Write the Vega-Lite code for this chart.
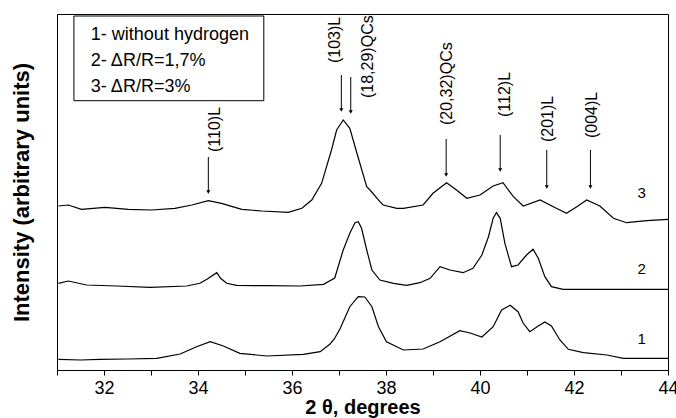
{
  "$schema": "https://vega.github.io/schema/vega-lite/v6.json",
  "autosize": "none",
  "padding": {"left": 57, "top": 14, "right": 8, "bottom": 48},
  "width": 611,
  "height": 356,
  "background": "white",
  "config": {
    "view": {"stroke": "black", "strokeWidth": 1},
    "font": "Liberation Sans"
  },
  "datasets": {
    "curves": [
      {"theta": 31.03, "intensity": 10.7, "sample": "1"},
      {"theta": 31.5, "intensity": 10.0, "sample": "1"},
      {"theta": 31.91, "intensity": 10.7, "sample": "1"},
      {"theta": 32.5, "intensity": 11.0, "sample": "1"},
      {"theta": 33.12, "intensity": 11.7, "sample": "1"},
      {"theta": 33.62, "intensity": 16, "sample": "1"},
      {"theta": 33.97, "intensity": 23.3, "sample": "1"},
      {"theta": 34.26, "intensity": 28.3, "sample": "1"},
      {"theta": 34.54, "intensity": 24, "sample": "1"},
      {"theta": 34.89, "intensity": 16.7, "sample": "1"},
      {"theta": 35.46, "intensity": 14, "sample": "1"},
      {"theta": 36.24, "intensity": 15.7, "sample": "1"},
      {"theta": 36.6, "intensity": 18.3, "sample": "1"},
      {"theta": 36.81, "intensity": 26, "sample": "1"},
      {"theta": 36.9, "intensity": 31, "sample": "1"},
      {"theta": 37.02, "intensity": 41, "sample": "1"},
      {"theta": 37.23, "intensity": 63.3, "sample": "1"},
      {"theta": 37.41, "intensity": 73.3, "sample": "1"},
      {"theta": 37.55, "intensity": 73, "sample": "1"},
      {"theta": 37.7, "intensity": 63.3, "sample": "1"},
      {"theta": 37.84, "intensity": 43.3, "sample": "1"},
      {"theta": 38.01, "intensity": 28.3, "sample": "1"},
      {"theta": 38.37, "intensity": 20, "sample": "1"},
      {"theta": 38.79, "intensity": 21, "sample": "1"},
      {"theta": 39.15, "intensity": 28.3, "sample": "1"},
      {"theta": 39.57, "intensity": 39.3, "sample": "1"},
      {"theta": 39.79, "intensity": 37, "sample": "1"},
      {"theta": 40.04, "intensity": 33, "sample": "1"},
      {"theta": 40.28, "intensity": 43.3, "sample": "1"},
      {"theta": 40.46, "intensity": 60, "sample": "1"},
      {"theta": 40.64, "intensity": 64.7, "sample": "1"},
      {"theta": 40.81, "intensity": 58.3, "sample": "1"},
      {"theta": 40.92, "intensity": 46.7, "sample": "1"},
      {"theta": 41.06, "intensity": 38.3, "sample": "1"},
      {"theta": 41.24, "intensity": 44, "sample": "1"},
      {"theta": 41.38, "intensity": 48, "sample": "1"},
      {"theta": 41.52, "intensity": 44, "sample": "1"},
      {"theta": 41.7, "intensity": 30, "sample": "1"},
      {"theta": 41.88, "intensity": 20.7, "sample": "1"},
      {"theta": 42.2, "intensity": 17.3, "sample": "1"},
      {"theta": 42.7, "intensity": 15, "sample": "1"},
      {"theta": 43.05, "intensity": 11.7, "sample": "1"},
      {"theta": 44, "intensity": 11.7, "sample": "1"},

      {"theta": 31.03, "intensity": 86.7, "sample": "2"},
      {"theta": 31.24, "intensity": 89, "sample": "2"},
      {"theta": 31.63, "intensity": 85, "sample": "2"},
      {"theta": 32.27, "intensity": 84, "sample": "2"},
      {"theta": 32.98, "intensity": 82.7, "sample": "2"},
      {"theta": 33.76, "intensity": 84, "sample": "2"},
      {"theta": 34.04, "intensity": 86.7, "sample": "2"},
      {"theta": 34.19, "intensity": 90.7, "sample": "2"},
      {"theta": 34.4, "intensity": 97.3, "sample": "2"},
      {"theta": 34.48, "intensity": 91.7, "sample": "2"},
      {"theta": 34.61, "intensity": 86.7, "sample": "2"},
      {"theta": 34.82, "intensity": 84.7, "sample": "2"},
      {"theta": 35.46, "intensity": 84.3, "sample": "2"},
      {"theta": 36.17, "intensity": 84, "sample": "2"},
      {"theta": 36.67, "intensity": 85.7, "sample": "2"},
      {"theta": 36.91, "intensity": 92, "sample": "2"},
      {"theta": 36.98, "intensity": 103, "sample": "2"},
      {"theta": 37.09, "intensity": 120, "sample": "2"},
      {"theta": 37.23, "intensity": 136.7, "sample": "2"},
      {"theta": 37.34, "intensity": 147.3, "sample": "2"},
      {"theta": 37.41, "intensity": 148.3, "sample": "2"},
      {"theta": 37.48, "intensity": 141.7, "sample": "2"},
      {"theta": 37.59, "intensity": 120, "sample": "2"},
      {"theta": 37.7, "intensity": 100, "sample": "2"},
      {"theta": 37.87, "intensity": 90, "sample": "2"},
      {"theta": 38.16, "intensity": 86.7, "sample": "2"},
      {"theta": 38.44, "intensity": 84.7, "sample": "2"},
      {"theta": 38.72, "intensity": 87.3, "sample": "2"},
      {"theta": 38.94, "intensity": 91.7, "sample": "2"},
      {"theta": 39.15, "intensity": 103.3, "sample": "2"},
      {"theta": 39.36, "intensity": 100, "sample": "2"},
      {"theta": 39.64, "intensity": 97.3, "sample": "2"},
      {"theta": 39.85, "intensity": 101.7, "sample": "2"},
      {"theta": 40.04, "intensity": 115, "sample": "2"},
      {"theta": 40.18, "intensity": 133.3, "sample": "2"},
      {"theta": 40.28, "intensity": 151.7, "sample": "2"},
      {"theta": 40.35, "intensity": 157.3, "sample": "2"},
      {"theta": 40.43, "intensity": 151.7, "sample": "2"},
      {"theta": 40.53, "intensity": 126.7, "sample": "2"},
      {"theta": 40.67, "intensity": 103.3, "sample": "2"},
      {"theta": 40.81, "intensity": 105, "sample": "2"},
      {"theta": 40.99, "intensity": 115, "sample": "2"},
      {"theta": 41.13, "intensity": 120.7, "sample": "2"},
      {"theta": 41.24, "intensity": 111.7, "sample": "2"},
      {"theta": 41.38, "intensity": 93.3, "sample": "2"},
      {"theta": 41.52, "intensity": 83.3, "sample": "2"},
      {"theta": 41.77, "intensity": 80.7, "sample": "2"},
      {"theta": 42.48, "intensity": 80.7, "sample": "2"},
      {"theta": 44, "intensity": 80.7, "sample": "2"},

      {"theta": 31.03, "intensity": 164, "sample": "3"},
      {"theta": 31.24, "intensity": 165, "sample": "3"},
      {"theta": 31.52, "intensity": 160.7, "sample": "3"},
      {"theta": 32.02, "intensity": 162.7, "sample": "3"},
      {"theta": 32.52, "intensity": 160.7, "sample": "3"},
      {"theta": 33.01, "intensity": 160, "sample": "3"},
      {"theta": 33.51, "intensity": 161.7, "sample": "3"},
      {"theta": 33.87, "intensity": 165, "sample": "3"},
      {"theta": 34.22, "intensity": 169.3, "sample": "3"},
      {"theta": 34.5, "intensity": 166.7, "sample": "3"},
      {"theta": 34.93, "intensity": 160.7, "sample": "3"},
      {"theta": 35.36, "intensity": 159, "sample": "3"},
      {"theta": 35.92, "intensity": 157.7, "sample": "3"},
      {"theta": 36.21, "intensity": 161.7, "sample": "3"},
      {"theta": 36.42, "intensity": 170, "sample": "3"},
      {"theta": 36.63, "intensity": 186.7, "sample": "3"},
      {"theta": 36.84, "intensity": 220, "sample": "3"},
      {"theta": 36.95, "intensity": 240, "sample": "3"},
      {"theta": 37.09, "intensity": 250, "sample": "3"},
      {"theta": 37.23, "intensity": 241.7, "sample": "3"},
      {"theta": 37.38, "intensity": 217, "sample": "3"},
      {"theta": 37.59, "intensity": 183.3, "sample": "3"},
      {"theta": 37.66, "intensity": 180, "sample": "3"},
      {"theta": 37.87, "intensity": 168.3, "sample": "3"},
      {"theta": 37.94, "intensity": 165, "sample": "3"},
      {"theta": 38.23, "intensity": 161.7, "sample": "3"},
      {"theta": 38.37, "intensity": 161.7, "sample": "3"},
      {"theta": 38.79, "intensity": 165, "sample": "3"},
      {"theta": 39.0, "intensity": 176.7, "sample": "3"},
      {"theta": 39.29, "intensity": 187.3, "sample": "3"},
      {"theta": 39.5, "intensity": 180, "sample": "3"},
      {"theta": 39.72, "intensity": 171.7, "sample": "3"},
      {"theta": 40.0, "intensity": 175, "sample": "3"},
      {"theta": 40.28, "intensity": 184, "sample": "3"},
      {"theta": 40.49, "intensity": 187.3, "sample": "3"},
      {"theta": 40.71, "intensity": 173.3, "sample": "3"},
      {"theta": 40.92, "intensity": 164, "sample": "3"},
      {"theta": 41.28, "intensity": 170, "sample": "3"},
      {"theta": 41.56, "intensity": 163.3, "sample": "3"},
      {"theta": 41.84, "intensity": 156.7, "sample": "3"},
      {"theta": 42.06, "intensity": 163.3, "sample": "3"},
      {"theta": 42.27, "intensity": 170, "sample": "3"},
      {"theta": 42.55, "intensity": 164, "sample": "3"},
      {"theta": 42.84, "intensity": 151.7, "sample": "3"},
      {"theta": 43.12, "intensity": 147.3, "sample": "3"},
      {"theta": 43.55, "intensity": 149.3, "sample": "3"},
      {"theta": 44, "intensity": 150.7, "sample": "3"}
    ],
    "arrows": [
      {"theta": 34.22, "top": 213, "bottom": 178, "label": "(110)L", "labelTheta": 34.36, "labelY": 218},
      {"theta": 37.05, "top": 295, "bottom": 260, "label": "(103)L", "labelTheta": 36.91, "labelY": 307},
      {"theta": 37.25, "top": 293, "bottom": 258, "label": "(18,29)QCs", "labelTheta": 37.62, "labelY": 272},
      {"theta": 39.28, "top": 231, "bottom": 195, "label": "(20,32)QCs", "labelTheta": 39.29, "labelY": 245},
      {"theta": 40.43, "top": 235, "bottom": 200, "label": "(112)L", "labelTheta": 40.53, "labelY": 253},
      {"theta": 41.42, "top": 220, "bottom": 183, "label": "(201)L", "labelTheta": 41.45, "labelY": 228},
      {"theta": 42.35, "top": 220, "bottom": 183, "label": "(004)L", "labelTheta": 42.38, "labelY": 232}
    ],
    "samples": [
      {"theta": 43.44, "y": 177, "text": "3"},
      {"theta": 43.44, "y": 100.7, "text": "2"},
      {"theta": 43.44, "y": 30.7, "text": "1"}
    ],
    "legendBox": [
      {"x1": 31.36, "x2": 35.4, "y1": 269.3, "y2": 354}
    ],
    "legendText": [
      {"theta": 31.72, "y": 335, "text": "1- without hydrogen"},
      {"theta": 31.72, "y": 309, "text": "2- ΔR/R=1,7%"},
      {"theta": 31.72, "y": 283, "text": "3- ΔR/R=3%"}
    ]
  },
  "layer": [
    {
      "data": {"name": "curves"},
      "mark": {"type": "line", "color": "black", "strokeWidth": 1.2},
      "encoding": {
        "x": {
          "field": "theta", "type": "quantitative",
          "scale": {"domain": [31, 44], "nice": false, "zero": false},
          "axis": {
            "title": "2 θ, degrees",
            "titleFontSize": 20, "titleFontWeight": "bold", "titleColor": "black",
            "titlePadding": 0,
            "values": [31, 32, 33, 34, 35, 36, 37, 38, 39, 40, 41, 42, 43, 44],
            "labelExpr": "datum.value % 2 == 0 ? datum.label : ''",
            "labelFontSize": 18, "labelColor": "black", "labelPadding": 4,
            "tickSize": 5, "tickColor": "black", "domainColor": "black",
            "grid": false, "labelFlush": false
          }
        },
        "y": {
          "field": "intensity", "type": "quantitative",
          "scale": {"domain": [0, 356], "nice": false, "zero": false},
          "axis": {
            "title": "Intensity (arbitrary units)",
            "titleFontSize": 22, "titleFontWeight": "bold", "titleColor": "black",
            "titlePadding": 24,
            "labels": false, "ticks": false, "domain": false, "grid": false
          }
        },
        "detail": {"field": "sample"}
      }
    },
    {
      "data": {"name": "arrows"},
      "mark": {"type": "rule", "color": "black", "strokeWidth": 1},
      "encoding": {
        "x": {"field": "theta", "type": "quantitative"},
        "y": {"field": "top", "type": "quantitative"},
        "y2": {"field": "bottom"}
      }
    },
    {
      "data": {"name": "arrows"},
      "mark": {"type": "point", "shape": "triangle-down", "filled": true, "color": "black", "size": 16, "opacity": 1},
      "encoding": {
        "x": {"field": "theta", "type": "quantitative"},
        "y": {"field": "bottom", "type": "quantitative"}
      }
    },
    {
      "data": {"name": "arrows"},
      "mark": {"type": "text", "angle": 270, "align": "left", "baseline": "middle", "fontSize": 16, "color": "black"},
      "encoding": {
        "x": {"field": "labelTheta", "type": "quantitative"},
        "y": {"field": "labelY", "type": "quantitative"},
        "text": {"field": "label"}
      }
    },
    {
      "data": {"name": "samples"},
      "mark": {"type": "text", "align": "center", "baseline": "middle", "fontSize": 15, "color": "black"},
      "encoding": {
        "x": {"field": "theta", "type": "quantitative"},
        "y": {"field": "y", "type": "quantitative"},
        "text": {"field": "text"}
      }
    },
    {
      "data": {"name": "legendBox"},
      "mark": {"type": "rect", "fill": "white", "stroke": "black", "strokeWidth": 1},
      "encoding": {
        "x": {"field": "x1", "type": "quantitative"},
        "x2": {"field": "x2"},
        "y": {"field": "y1", "type": "quantitative"},
        "y2": {"field": "y2"}
      }
    },
    {
      "data": {"name": "legendText"},
      "mark": {"type": "text", "align": "left", "baseline": "middle", "fontSize": 18, "color": "black"},
      "encoding": {
        "x": {"field": "theta", "type": "quantitative"},
        "y": {"field": "y", "type": "quantitative"},
        "text": {"field": "text"}
      }
    }
  ]
}
